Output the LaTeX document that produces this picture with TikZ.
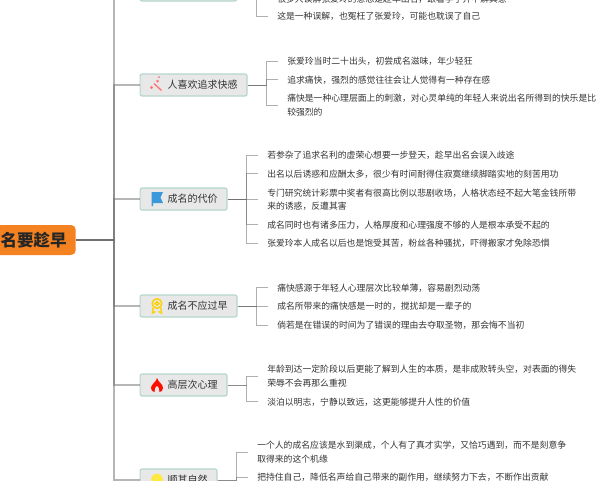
\documentclass[tikz,border=0pt]{standalone}
\usepackage{fontspec}
\setmainfont{Noto Sans CJK SC}
\definecolor{rootorange}{HTML}{F58220}
\definecolor{topicfill}{HTML}{E8E8E8}
\definecolor{topicedge}{HTML}{B4D6CC}
\definecolor{inkgray}{HTML}{333333}
\definecolor{linegray}{HTML}{6E6E6E}
\tikzset{
	rootbox/.style={fill=rootorange,rounded corners=3.5pt,anchor=east,text width=68pt,align=right,inner xsep=6.75pt,minimum height=22.5pt,font=\fontsize{12.4pt}{14pt}\selectfont\bfseries,text=black!85},
	topicbox/.style={fill=topicfill,draw=topicedge,line width=0.9pt,rounded corners=1.5pt,anchor=west,inner xsep=7.1pt,inner ysep=0pt,minimum height=16.5pt,font=\fontsize{7.5pt}{9pt}\selectfont,text=inkgray},
	leaftext/.style={anchor=west,inner xsep=6.75pt,inner ysep=0pt,align=left,font=\fontsize{6.62pt}{10.1pt}\selectfont,text=inkgray},
	branch/.style={draw=linegray,line width=0.95pt,draw opacity=0.5},
	twig/.style={draw=linegray,line width=0.75pt,draw opacity=0.55},
}
\newcommand{\maketopic}[3]{
	\node[topicbox] (#1) at (139.5,#2) {\hspace*{13.5pt}\raisebox{-0.5pt}{#3}};
	\draw[branch] (root.east) -- (trunk) |- (#1.west);
}
\newcommand{\makeleaf}[5]{
	\node[leaftext] (#1) at (#2) {#3};
	\draw[twig] (#4.east) -- ++(#5,0) |- (#1.west);
}

\begin{document}
\begin{tikzpicture}[x=0.75pt,y=-0.75pt]
	\useasboundingbox (0,0) rectangle (600,480);

	\node[rootbox] (root) at (76,240) {名要趁早};
	\coordinate (trunk) at (114,240);

	\node[topicbox,minimum width=72.4pt] (wujie) at (139.5,-10) {};
	\draw[branch] (root.east) -- (trunk) |- (wujie.west);
	\maketopic{kuaigan}{85}{人喜欢追求快感}
	\maketopic{daijia}{199}{成名的代价}
	\maketopic{guozao}{306}{成名不应过早}
	\maketopic{cengci}{385}{高层次心理}
	\maketopic{ziran}{480}{顺其自然}

	% icons
	\fill[pink!30!red!70!white] (151.5,87.5) circle (1.7) (157.5,81) circle (1.5) (159,77) circle (1);
	\draw[pink!30!red!70!white,line width=1pt] (154,83.5) -- (161.5,90.5);
	\fill[cyan!70!blue!80!white] (151.5,192) -- (163,192) -- (160.5,197.5) -- (163,203) -- (153,203) -- (153,206) -- (151.5,206) -- cycle;
	\draw[yellow!70!orange,line width=1.1pt] (157,303.5) circle (4.8) (157,303.5) circle (1.8);
	\draw[yellow!70!orange,line width=1.1pt] (153,308) -- (152.5,313) -- (155.5,311.5) (161,308) -- (161.5,313) -- (158.5,311.5);
	\fill[red!90!orange] (157,378) .. controls (158,382) and (163,384) .. (163,388) .. controls (163,390) and (161.5,392) .. (159.5,392) .. controls (160.5,389) and (158,387) .. (157,385.5) .. controls (156,387) and (153.5,389) .. (154.5,392) .. controls (152.5,392) and (151,390) .. (151,388) .. controls (151,384) and (156.5,382) .. (157,378) -- cycle;
	\fill[yellow!85!orange!75!white] (157,479.5) circle (5.8);

	% first topic, cut by the top edge
	\makeleaf{wujie1}{268,-1}{很多人误解张爱玲的意思是趁早出名，跟着学了并不解其意}{wujie}{19}
	\makeleaf{wujie2}{268,16.5}{这是一种误解，也冤枉了张爱玲，可能也耽误了自己}{wujie}{19}

	\makeleaf{kuaigan1}{278,61}{张爱玲当时二十出头，初尝成名滋味，年少轻狂}{kuaigan}{18.5}
	\makeleaf{kuaigan2}{278,79.8}{追求痛快，强烈的感觉往往会让人觉得有一种存在感}{kuaigan}{18.5}
	\makeleaf{kuaigan3}{278,105}{痛快是一种心理层面上的刺激，对心灵单纯的年轻人来说出名所得到的快乐是比\\较强烈的}{kuaigan}{18.5}

	\makeleaf{daijia1}{258,155.3}{若参杂了追求名利的虚荣心想要一步登天，趁早出名会误入歧途}{daijia}{18.5}
	\makeleaf{daijia2}{258,173.8}{出名以后诱惑和应酬太多，很少有时间耐得住寂寞继续脚踏实地的刻苦用功}{daijia}{18.5}
	\makeleaf{daijia3}{258,199.5}{专门研究统计彩票中奖者有很高比例以悲剧收场，人格状态经不起大笔金钱所带\\来的诱惑，反遭其害}{daijia}{18.5}
	\makeleaf{daijia4}{258,224.8}{成名同时也有诸多压力，人格厚度和心理强度不够的人是根本承受不起的}{daijia}{18.5}
	\makeleaf{daijia5}{258,243.3}{张爱玲本人成名以后也是饱受其苦，粉丝各种骚扰，吓得搬家才免除恐惧}{daijia}{18.5}

	\makeleaf{guozao1}{268,287.8}{痛快感源于年轻人心理层次比较单薄，容易剧烈动荡}{guozao}{18.5}
	\makeleaf{guozao2}{268,306.3}{成名所带来的痛快感是一时的，搅扰却是一辈子的}{guozao}{18.5}
	\makeleaf{guozao3}{268,325.3}{倘若是在错误的时间为了错误的理由去夺取圣物，那会悔不当初}{guozao}{18.5}

	\makeleaf{cengci1}{258,376.3}{年龄到达一定阶段以后更能了解到人生的本质，是非成败转头空，对表面的得失\\荣辱不会再那么重视}{cengci}{18.5}
	\makeleaf{cengci2}{258,401.8}{淡泊以明志，宁静以致远，这更能够提升人性的价值}{cengci}{18.5}

	\makeleaf{ziran1}{248,452.3}{一个人的成名应该是水到渠成，个人有了真才实学，又恰巧遇到，而不是刻意争\\取得来的这个机缘}{ziran}{18.5}
	\makeleaf{ziran2}{248,477.3}{把持住自己，降低名声给自己带来的副作用，继续努力下去，不断作出贡献}{ziran}{18.5}
\end{tikzpicture}
\end{document}
